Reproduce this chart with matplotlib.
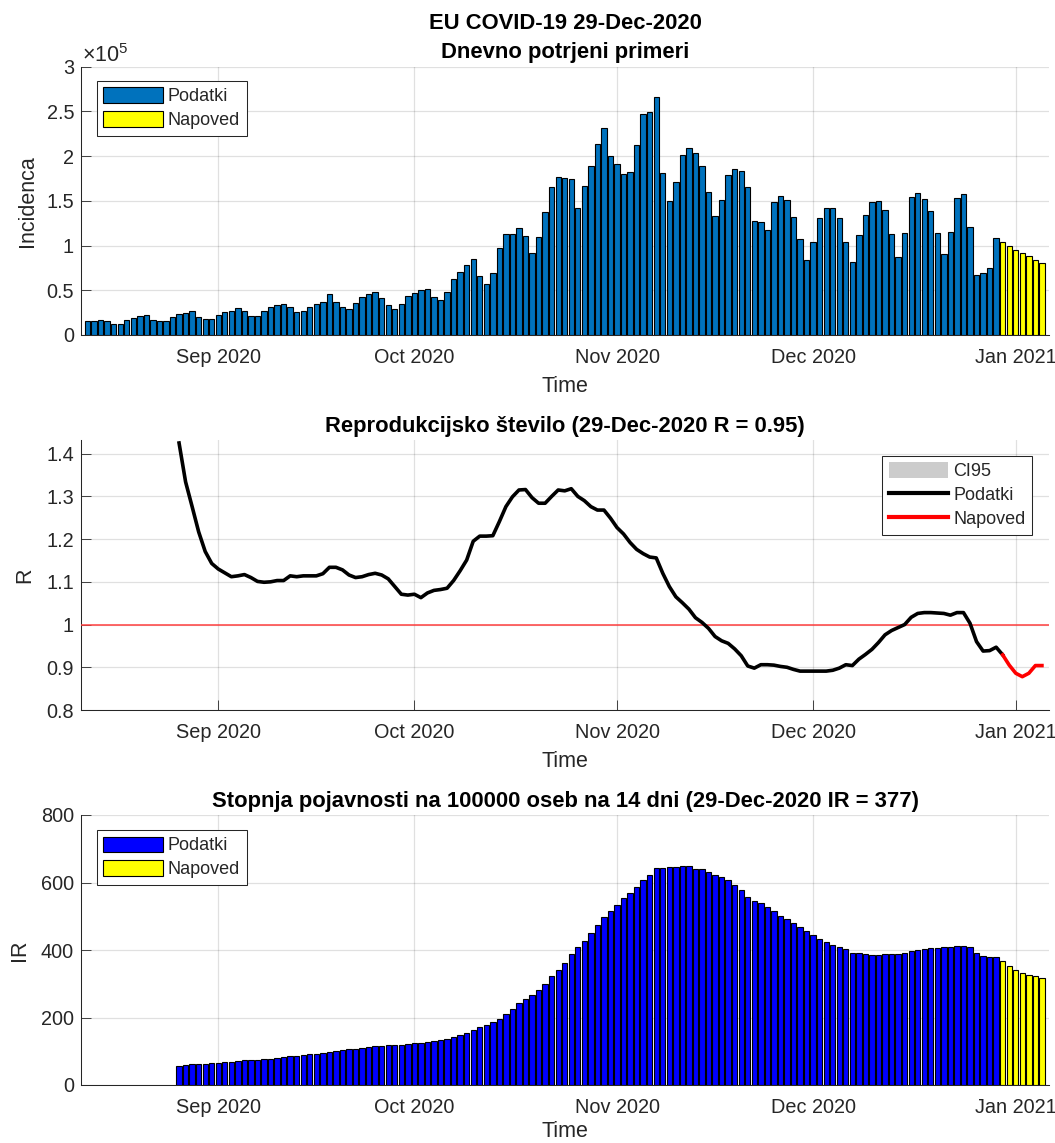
import pandas as pd
import matplotlib
matplotlib.use('Agg')
import matplotlib.pyplot as plt
from matplotlib.patches import Patch
from matplotlib.lines import Line2D

plt.rcParams['font.family'] = ['Liberation Sans', 'DejaVu Sans']
plt.rcParams['mathtext.fontset'] = 'custom'
plt.rcParams['mathtext.rm'] = 'Liberation Sans'

# daily cases in units of 1e5, 12 Aug to 29 Dec 2020
cases_data = [
    .157, .157, .168, .157, .123, .123, .168, .19, .209, .22, .168, .157, .157, .198, .231, .246, .265, .198, .179, .179,
    .224, .253, .265, .298, .265, .209, .209, .265, .309, .332, .343, .317, .253, .265, .317, .35, .373, .455, .373, .317,
    .287, .362, .425, .455, .477, .414, .339, .287, .35, .436, .466, .5, .51, .425, .391, .477, .63, .704, .779, .854,
    .66, .574, .69, .969, 1.133, 1.133, 1.196, 1.11, .917, 1.1, 1.372, 1.659, 1.763, 1.758, 1.746, 1.424, 1.661, 1.895, 2.14, 2.31,
    2.0, 1.917, 1.798, 1.828, 2.128, 2.473, 2.49, 2.662, 1.806, 1.498, 1.713, 2.013, 2.095, 2.032, 1.895, 1.594, 1.331, 1.509, 1.787, 1.861,
    1.839, 1.65, 1.272, 1.261, 1.175, 1.487, 1.55, 1.509, 1.316, 1.072, .838, 1.038, 1.305, 1.424, 1.424, 1.305, 1.038, .816, 1.116, 1.339,
    1.487, 1.498, 1.402, 1.127, .868, 1.135, 1.543, 1.583, 1.52, 1.39, 1.135, .901, 1.157, 1.531, 1.572, 1.209, .675, .697, .749, 1.083,
]
cases_forecast = [1.038, .994, .953, .912, .879, .838, .805]

# R from 26 Aug 2020; the forecast part starts on 30 Dec
r_data = [
    1.425, 1.334, 1.276, 1.217, 1.171, 1.143, 1.13, 1.121, 1.112, 1.114, 1.117, 1.11, 1.101, 1.099, 1.1, 1.103, 1.103, 1.114, 1.112, 1.114,
    1.114, 1.114, 1.119, 1.134, 1.134, 1.128, 1.116, 1.11, 1.112, 1.117, 1.12, 1.116, 1.107, 1.089, 1.071, 1.069, 1.071, 1.063, 1.074, 1.08,
    1.082, 1.085, 1.103, 1.126, 1.151, 1.195, 1.207, 1.207, 1.208, 1.241, 1.276, 1.299, 1.315, 1.316, 1.297, 1.284, 1.284, 1.3, 1.315, 1.313,
    1.318, 1.3, 1.29, 1.276, 1.268, 1.268, 1.249, 1.227, 1.212, 1.192, 1.176, 1.166, 1.158, 1.156, 1.12, 1.089, 1.065, 1.051, 1.036, 1.016,
    1.005, .991, .972, .962, .956, .943, .927, .903, .898, .906, .906, .905, .902, .9, .895, .891, .891, .891, .891, .891,
    .893, .898, .906, .904, .919, .93, .942, .958, .976, .986, .993, 1.0, 1.017, 1.026, 1.028, 1.028, 1.027, 1.026, 1.022, 1.028,
    1.028, 1.003, .96, .938, .939, .947,
]
r_forecast = [.929, .905, .886, .878, .886, .904, .904]

# incidence rate from 26 Aug 2020
ir_data = [
    57, 60, 62, 62, 62, 65, 65, 68, 68, 71, 74, 74, 74, 77, 77, 80, 83, 85, 85, 88,
    91, 91, 94, 97, 100, 103, 106, 106, 109, 112, 117, 117, 120, 120, 120, 122, 125, 125, 128, 131,
    134, 137, 143, 148, 154, 162, 171, 177, 186, 197, 210, 225, 242, 256, 268, 282, 299, 322, 342, 361,
    387, 408, 428, 449, 473, 499, 516, 532, 553, 570, 587, 606, 621, 643, 643, 646, 646, 649, 649, 641,
    641, 632, 621, 615, 606, 593, 579, 556, 544, 538, 527, 516, 502, 491, 479, 467, 455, 444, 433, 425,
    416, 408, 402, 390, 390, 387, 384, 384, 387, 387, 387, 390, 396, 399, 402, 405, 405, 408, 408, 413,
    413, 408, 390, 382, 379, 379,
]
ir_forecast = [367, 354, 342, 331, 325, 322, 316]

all_days = pd.date_range('2020-08-12', '2021-01-05')
days_data = all_days[:len(cases_data)]
days_forecast = all_days[len(cases_data):]
days_short = days_data[14:]

month_ticks = pd.to_datetime(['2020-09-01', '2020-10-01', '2020-11-01', '2020-12-01', '2021-01-01'])
month_labels = ['Sep 2020', 'Oct 2020', 'Nov 2020', 'Dec 2020', 'Jan 2021']
x_start = pd.Timestamp('2020-08-11')
x_end = pd.Timestamp('2021-01-06 02:00')

W, H = 1055, 1143
dark = '#262626'
bar_w = 0.82
fig = plt.figure(figsize=(W / 100, H / 100), dpi=100)


def make_axes(top, bottom, time_pad=6):
    ax = fig.add_axes([81 / W, 1 - bottom / H, (1049 - 81) / W, (bottom - top) / H])
    ax.set_xlim(x_start, x_end)
    ax.set_xticks(month_ticks)
    ax.set_xticklabels(month_labels)
    ax.grid(True, color='#000000', alpha=0.12, lw=0.9)
    ax.set_axisbelow(True)
    ax.spines['top'].set_visible(False)
    ax.spines['right'].set_visible(False)
    ax.spines['left'].set_color(dark)
    ax.spines['bottom'].set_color(dark)
    ax.spines['left'].set_linewidth(0.75)
    ax.spines['bottom'].set_linewidth(0.75)
    ax.tick_params(axis='both', direction='in', length=7, width=0.6, color=dark,
                   labelcolor=dark, labelsize=14.3)
    ax.tick_params(axis='x', pad=9.5)
    ax.tick_params(axis='y', pad=5)
    ax.set_xlabel('Time', fontsize=15.5, color=dark, labelpad=time_pad)
    return ax


def add_legend(ax, handles, x0, y0):
    leg = ax.legend(handles=handles, loc='upper left',
                    bbox_to_anchor=(x0 / W, 1 - y0 / H), bbox_transform=fig.transFigure,
                    borderaxespad=0, fontsize=13, fancybox=False, framealpha=1,
                    edgecolor=dark, handlelength=3.3, handleheight=0.95,
                    handletextpad=0.28, labelspacing=0.33, borderpad=0.36)
    leg.get_frame().set_linewidth(0.75)
    for t in leg.get_texts():
        t.set_color(dark)


# daily cases
ax1 = make_axes(66.7, 335)
ax1.bar(days_data, cases_data, width=bar_w, color='#0072BD', edgecolor='black', linewidth=0.8)
ax1.bar(days_forecast, cases_forecast, width=bar_w, color='#FFFF00', edgecolor='black', linewidth=0.8)
ax1.set_ylim(0, 3)
ax1.set_yticks([0, .5, 1, 1.5, 2, 2.5, 3])
ax1.set_yticklabels(['0', '0.5', '1', '1.5', '2', '2.5', '3'])
ax1.set_ylabel('Incidenca', fontsize=15.5, color=dark, labelpad=6)
ax1.set_title('EU COVID-19 29-Dec-2020\nDnevno potrjeni primeri', fontsize=15.8,
              fontweight='bold', pad=6, linespacing=1.5)
ax1.text(82 / W, 1 - 62 / H, r'$\times 10^{5}$', transform=fig.transFigure, fontsize=15.5,
         color=dark, ha='left', va='baseline')
add_legend(ax1, [Patch(facecolor='#0072BD', edgecolor='black', lw=0.8, label='Podatki'),
                 Patch(facecolor='#FFFF00', edgecolor='black', lw=0.8, label='Napoved')], 96.7, 80.7)

# reproduction number
ax2 = make_axes(440, 710)
ax2.axhline(1, color='#FF4040', lw=1.1, zorder=3)
ax2.plot(days_short.append(days_forecast[:1]), r_data + r_forecast[:1], color='black', lw=2.6, zorder=4)
ax2.plot(days_forecast, r_forecast, color='red', lw=2.6, zorder=4)
ax2.set_ylim(0.8, 1.432)
ax2.set_yticks([.8, .9, 1, 1.1, 1.2, 1.3, 1.4])
ax2.set_yticklabels(['0.8', '0.9', '1', '1.1', '1.2', '1.3', '1.4'])
ax2.set_ylabel('R', fontsize=15.5, color=dark, labelpad=8)
ax2.set_title('Reprodukcijsko število (29-Dec-2020 R = 0.95)', fontsize=15.8, fontweight='bold', pad=6)
add_legend(ax2, [Patch(facecolor='#CCCCCC', edgecolor='none', label='CI95'),
                 Line2D([0], [0], color='black', lw=3, label='Podatki'),
                 Line2D([0], [0], color='red', lw=3, label='Napoved')], 882.3, 455.7)

# incidence rate
ax3 = make_axes(815, 1085, time_pad=3)
ax3.bar(days_short, ir_data, width=bar_w, color='#0000FF', edgecolor='black', linewidth=0.8)
ax3.bar(days_forecast, ir_forecast, width=bar_w, color='#FFFF00', edgecolor='black', linewidth=0.8)
ax3.set_ylim(0, 800)
ax3.set_yticks([0, 200, 400, 600, 800])
ax3.set_ylabel('IR', fontsize=15.5, color=dark, labelpad=8)
ax3.set_title('Stopnja pojavnosti na 100000 oseb na 14 dni (29-Dec-2020 IR = 377)', fontsize=15.8,
              fontweight='bold', pad=6)
add_legend(ax3, [Patch(facecolor='#0000FF', edgecolor='black', lw=0.8, label='Podatki'),
                 Patch(facecolor='#FFFF00', edgecolor='black', lw=0.8, label='Napoved')], 96.7, 830)

fig.savefig('out.png', dpi=100)
